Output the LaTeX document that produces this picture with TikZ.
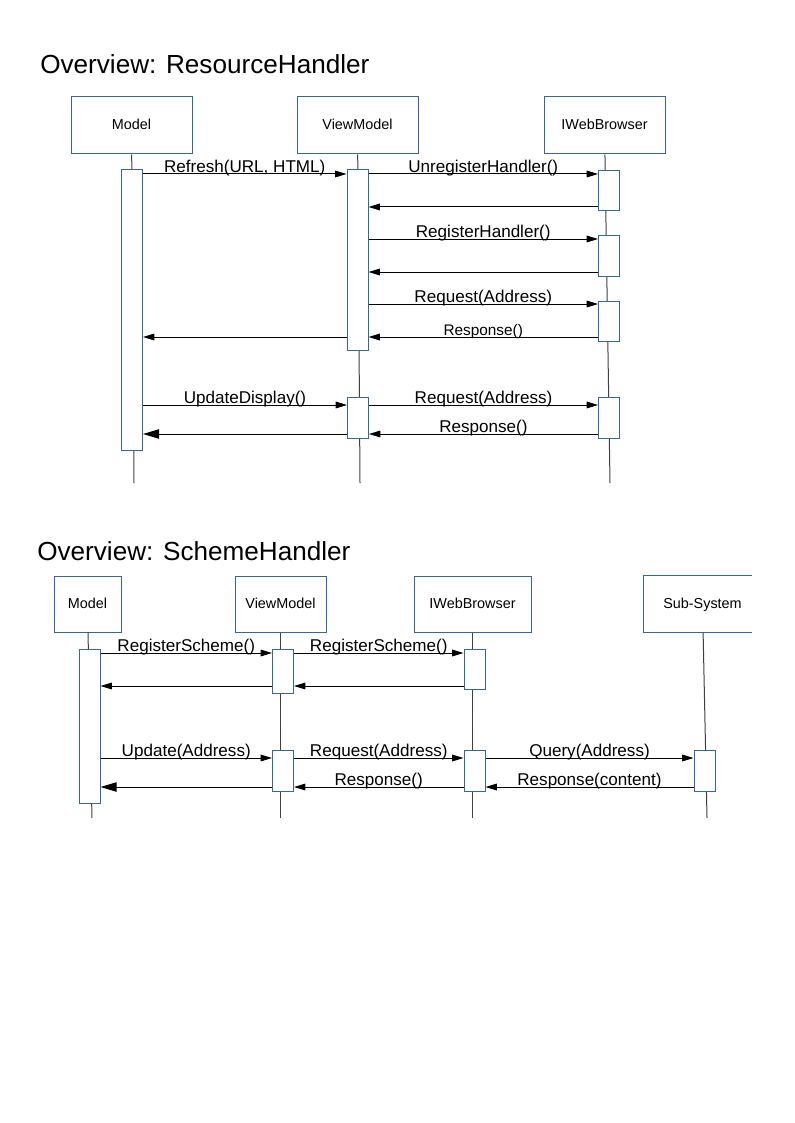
\documentclass[tikz,border=0pt]{standalone}
\usepackage{fontspec}
\setmainfont{Liberation Sans}
\usetikzlibrary{arrows.meta,positioning,calc}
\definecolor{boxblue}{RGB}{52,101,164}

\begin{document}
\begin{tikzpicture}[x=0.75pt, y=-0.75pt,
    actor/.style={rectangle, draw=boxblue, line width=0.75pt, fill=white, inner sep=0pt, minimum height=42.75pt, text height=1.6ex, text depth=0.4ex, font=\fontsize{10.8}{12}\selectfont},
    act/.style={rectangle, draw=boxblue, line width=0.75pt, fill=white, inner sep=0pt, minimum width=15.75pt},
    life/.style={line width=0.75pt, black!75},
    msg/.style={line width=0.75pt, -{Triangle[length=8.5pt, width=5pt]}},
    ret/.style={line width=0.75pt, -{Triangle[length=12pt, width=7pt]}},
    lbl/.style={anchor=base, inner sep=0pt, yshift=1pt, font=\fontsize{12.8}{14}\selectfont},
    title/.style={anchor=base west, inner sep=0pt, font=\fontsize{19.6}{24}\selectfont}]
    \useasboundingbox (0,0) rectangle (794,1123);

    % ResourceHandler
    \node[title] (title1) at (40,74) {Overview: ResourceHandler};
    \node[actor, minimum width=90.75pt] (model) at (131.5,125.5) {Model};
    \node[actor, minimum width=90.75pt] (vm) at (357.5,125.5) {ViewModel};
    \node[actor, minimum width=90.75pt] (iwb) at (604.5,125.5) {IWebBrowser};

    \coordinate (mend) at (134,483);
    \coordinate (vend) at (360,483);
    \coordinate (iend) at (610,483);
    \draw[life] (model) -- (mend);
    \draw[life] (vm) -- (vend);
    \draw[life] (iwb) -- (iend);

    \node[act, minimum height=210pt] (mact) at (132,310) {};
    \node[act, minimum height=135pt] (vact1) at (357.5,260) {};
    \node[act, minimum height=30.75pt] (vact2) at (358,417.5) {};
    \node[act, minimum height=30pt] (iact1) at (609,191) {};
    \node[act, minimum height=30pt] (iact2) at (609,256) {};
    \node[act, minimum height=30pt] (iact3) at (609,321) {};
    \node[act, minimum height=30.75pt] (iact4) at (609,417.5) {};

    \foreach \n/\y in {r1/174, r2/207, r3/239, r4/272, r5/304, r6/337, r7/405, r8/434}
        \coordinate (\n) at (0,\y);

    \draw[msg] (mact.east |- r1) -- (vact1.west |- r1) node[lbl, midway] {Refresh(URL, HTML)};
    \draw[msg] (vact1.east |- r1) -- (iact1.west |- r1) node[lbl, midway] {UnregisterHandler()};
    \draw[msg] (iact1.west |- r2) -- (vact1.east |- r2);
    \draw[msg] (vact1.east |- r3) -- (iact2.west |- r3) node[lbl, midway] {RegisterHandler()};
    \draw[msg] (iact2.west |- r4) -- (vact1.east |- r4);
    \draw[msg] (vact1.east |- r5) -- (iact3.west |- r5) node[lbl, midway] {Request(Address)};
    \draw[msg] (iact3.west |- r6) -- (vact1.east |- r6) node[lbl, midway, font=\fontsize{11.5}{13}\selectfont] {Response()};
    \draw[msg] (vact1.west |- r6) -- (mact.east |- r6);
    \draw[msg] (mact.east |- r7) -- (vact2.west |- r7) node[lbl, midway] {UpdateDisplay()};
    \draw[msg] (vact2.east |- r7) -- (iact4.west |- r7) node[lbl, midway] {Request(Address)};
    \draw[msg] (iact4.west |- r8) -- (vact2.east |- r8) node[lbl, midway] {Response()};
    \draw[ret] (vact2.west |- r8) -- (mact.east |- r8);

    % SchemeHandler
    \node[title] (title2) at (37,560) {Overview: SchemeHandler};
    \node[actor, minimum width=50.25pt, minimum height=42pt] (model2) at (87.5,604) {Model};
    \node[actor, minimum width=68.25pt, minimum height=42pt] (vm2) at (280.5,604) {ViewModel};
    \node[actor, minimum width=87.75pt, minimum height=42pt] (iwb2) at (472.5,604) {IWebBrowser};
    \node[actor, draw=none, minimum width=87.75pt, minimum height=42pt] (sub) at (702.5,604) {Sub-System};
    \coordinate (cut) at (752,604);
    \draw[boxblue, line width=0.75pt] (cut |- sub.north) -- (sub.north west) -- (sub.south west) -- (cut |- sub.south);

    \coordinate (mend2) at (92,818);
    \coordinate (vend2) at (280,818);
    \coordinate (iend2) at (472,818);
    \coordinate (send) at (707,818);
    \draw[life] (model2.south -| 88,0) -- (mend2);
    \draw[life] (vm2.south -| vend2) -- (vend2);
    \draw[life] (iwb2.south -| iend2) -- (iend2);
    \draw[life] (sub) -- (send);

    \node[act, minimum height=115.5pt] (mact2) at (89.5,726) {};
    \node[act, minimum height=33pt] (vact3) at (283,671) {};
    \node[act, minimum height=30pt] (iact5) at (474.5,669) {};
    \node[act, minimum height=30.75pt] (vact4) at (283,770.5) {};
    \node[act, minimum height=30.75pt] (iact6) at (474.5,770.5) {};
    \node[act, minimum height=30.75pt] (sact) at (704.5,770.5) {};

    \foreach \n/\y in {s1/653, s2/686, s3/758, s4/787}
        \coordinate (\n) at (0,\y);

    \draw[msg] (mact2.east |- s1) -- (vact3.west |- s1) node[lbl, midway] {RegisterScheme()};
    \draw[msg] (vact3.east |- s1) -- (iact5.west |- s1) node[lbl, midway] {RegisterScheme()};
    \draw[msg] (iact5.west |- s2) -- (vact3.east |- s2);
    \draw[msg] (vact3.west |- s2) -- (mact2.east |- s2);
    \draw[msg] (mact2.east |- s3) -- (vact4.west |- s3) node[lbl, midway] {Update(Address)};
    \draw[msg] (vact4.east |- s3) -- (iact6.west |- s3) node[lbl, midway] {Request(Address)};
    \draw[msg] (iact6.east |- s3) -- (sact.west |- s3) node[lbl, midway] {Query(Address)};
    \draw[msg] (sact.west |- s4) -- (iact6.east |- s4) node[lbl, midway] {Response(content)};
    \draw[msg] (iact6.west |- s4) -- (vact4.east |- s4) node[lbl, midway] {Response()};
    \draw[ret] (vact4.west |- s4) -- (mact2.east |- s4);
\end{tikzpicture}
\end{document}
